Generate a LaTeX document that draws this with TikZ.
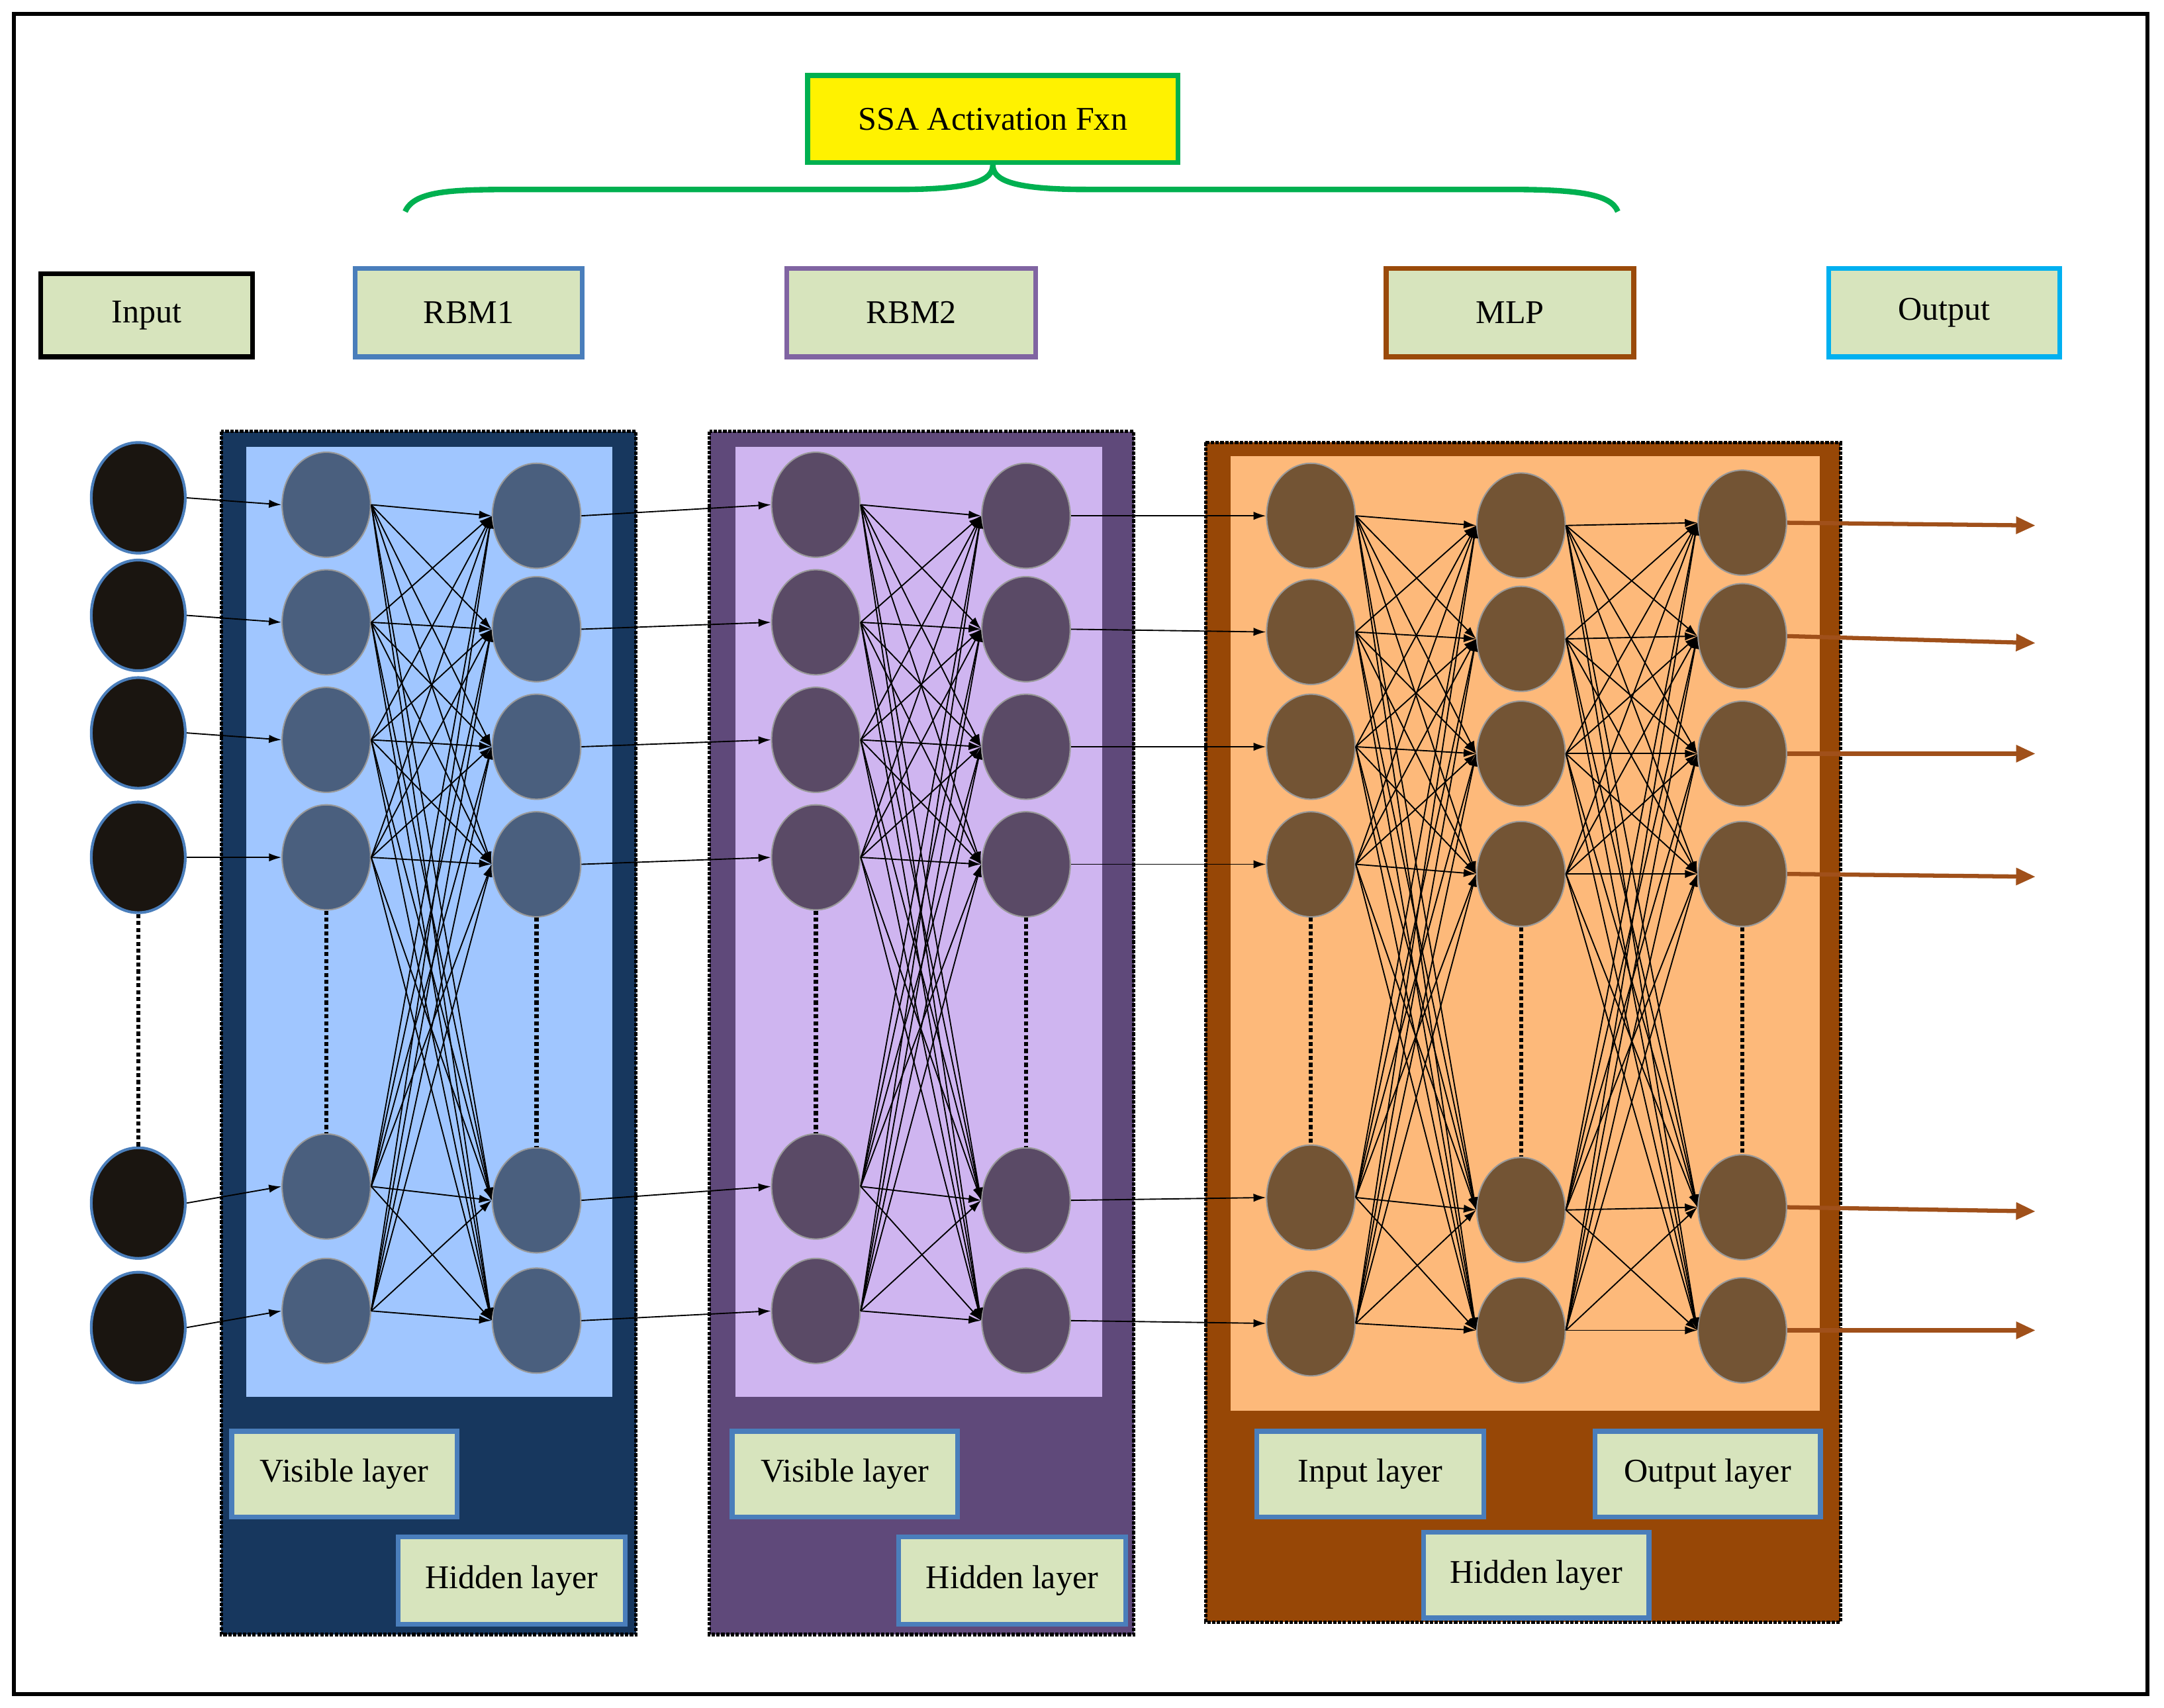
\documentclass[tikz,border=0pt]{standalone}
\usepackage{fontspec}
\setmainfont{Liberation Serif}
\usetikzlibrary{arrows.meta,shapes.geometric}
\definecolor{lab}{HTML}{D7E4BD}
\definecolor{bl}{HTML}{4A7EBB}
\definecolor{pu}{HTML}{8064A2}
\definecolor{br}{HTML}{9A4A0A}
\definecolor{cy}{HTML}{00B0F0}
\definecolor{gr}{HTML}{00B050}
\definecolor{n1}{HTML}{4A5F7E}
\definecolor{n2}{HTML}{5A4A66}
\definecolor{n3}{HTML}{735434}
\definecolor{oa}{HTML}{A0501A}
\definecolor{p1}{RGB}{23,55,94}
\definecolor{q1}{RGB}{160,198,255}
\definecolor{p2}{RGB}{95,73,122}
\definecolor{q2}{RGB}{207,181,240}
\definecolor{p3}{RGB}{151,71,6}
\definecolor{q3}{RGB}{253,185,122}
\definecolor{nx}{RGB}{26,21,16}
\begin{document}
\begin{tikzpicture}[x=1pt,y=-1pt,
 lbl/.style={draw=#1,line width=3.5pt,fill=lab,font=\fontsize{24}{28}\selectfont,inner sep=0pt},
 neu/.style={ellipse,minimum width=64pt,minimum height=76pt,draw=black!40,line width=1pt,inner sep=0pt},
 con/.style={-{Latex[length=9pt,width=6pt]},line width=0.9pt},
 dotl/.style={line width=3pt,dotted},
 panel/.style={draw=black,line width=2.5pt,densely dotted}]
\useasboundingbox (0,0) rectangle (1565,1235);
\draw[line width=3pt] (10,10) rectangle (1553,1225);
% top
\node[lbl=gr,fill=yellow,minimum width=268pt,minimum height=63pt] (ssa) at (718,86) {SSA Activation Fxn};
\coordinate (bl) at (293,153); \coordinate (br) at (1170,153);
\draw[gr,line width=4pt] (bl) .. controls (300,137) and (330,137) .. (380,137) -- (650,137) .. controls (705,137) and (718,130) .. (ssa.south) .. controls (718,130) and (731,137) .. (786,137) -- (1090,137) .. controls (1140,137) and (1165,140) .. (br);
\node[lbl=black,minimum width=153pt,minimum height=60pt] (in) at (106,228) {Input};
\node[lbl=bl,minimum width=164pt,minimum height=64pt] (r1) at (339,226) {RBM1};
\node[lbl=pu,minimum width=180pt,minimum height=64pt] (r2) at (659,226) {RBM2};
\node[lbl=br,minimum width=179pt,minimum height=64pt] (mlp) at (1092,226) {MLP};
\node[lbl=cy,minimum width=167pt,minimum height=64pt] (out) at (1406,226) {Output};
% panels
\fill[p1] (160,312) rectangle (460,1182);
\draw[panel] (160,312) rectangle (460,1182);
\fill[q1] (178,323) rectangle (443,1010);
\fill[p2] (513,312) rectangle (820,1182);
\draw[panel] (513,312) rectangle (820,1182);
\fill[q2] (532,323) rectangle (797,1010);
\fill[p3] (872,320) rectangle (1331,1173);
\draw[panel] (872,320) rectangle (1331,1173);
\fill[q3] (890,330) rectangle (1316,1020);
% neurons
\foreach \y [count=\i] in {360,445,530,620,870,960}
  \node[neu,fill=nx,draw=bl,line width=2pt,minimum width=68pt,minimum height=80pt] (x\i) at (100,\y) {};
\foreach \y [count=\i] in {365,450,535,620,858,948} {
  \node[neu,fill=n1] (av\i) at (236,\y) {};
  \node[neu,fill=n2] (bv\i) at (590,\y) {};}
\foreach \y [count=\i] in {373,455,540,625,868,955} {
  \node[neu,fill=n1] (ah\i) at (388,\y) {};
  \node[neu,fill=n2] (bh\i) at (742,\y) {};}
\foreach \y [count=\i] in {373,457,540,625,866,957}
  \node[neu,fill=n3] (ci\i) at (948,\y) {};
\foreach \y [count=\i] in {380,462,545,632,875,962}
  \node[neu,fill=n3] (ch\i) at (1100,\y) {};
\foreach \y [count=\i] in {378,460,545,632,873,962}
  \node[neu,fill=n3] (co\i) at (1260,\y) {};
% dotted
\foreach \n in {x,av,ah,bv,bh,ci,ch,co} \draw[dotl] (\n4.south) -- (\n5.north);
% full connections
\foreach \i in {1,...,6} \foreach \j in {1,...,6} {
  \draw[con] (av\i.east) -- (ah\j.west);
  \draw[con] (bv\i.east) -- (bh\j.west);
  \draw[con] (ci\i.east) -- (ch\j.west);
  \draw[con] (ch\i.east) -- (co\j.west);}
% between
\foreach \i in {1,...,6} {
  \draw[con] (x\i.east) -- (av\i.west);
  \draw[con] (ah\i.east) -- (bv\i.west);
  \draw[con] (bh\i.east) -- (ci\i.west);
}
\foreach \i/\y in {1/380,2/465,3/545,4/634,5/876,6/962} {
  \coordinate (e\i) at (1472,\y);
  \draw[oa,line width=3pt,-{Triangle[length=14pt,width=12pt]}] (co\i.east) -- (e\i);}
% layer labels
\node[lbl=bl,minimum width=163pt,minimum height=62pt] (l1) at (249,1066) {Visible layer};
\node[lbl=bl,minimum width=164pt,minimum height=63pt] (l2) at (370,1143) {Hidden layer};
\node[lbl=bl,minimum width=163pt,minimum height=62pt] (l3) at (611,1066) {Visible layer};
\node[lbl=bl,minimum width=164pt,minimum height=63pt] (l4) at (732,1143) {Hidden layer};
\node[lbl=bl,minimum width=164pt,minimum height=62pt] (l5) at (991,1066) {Input layer};
\node[lbl=bl,minimum width=163pt,minimum height=62pt] (l6) at (1235,1066) {Output layer};
\node[lbl=bl,minimum width=163pt,minimum height=62pt] (l7) at (1111,1139) {Hidden layer};
\end{tikzpicture}
\end{document}
